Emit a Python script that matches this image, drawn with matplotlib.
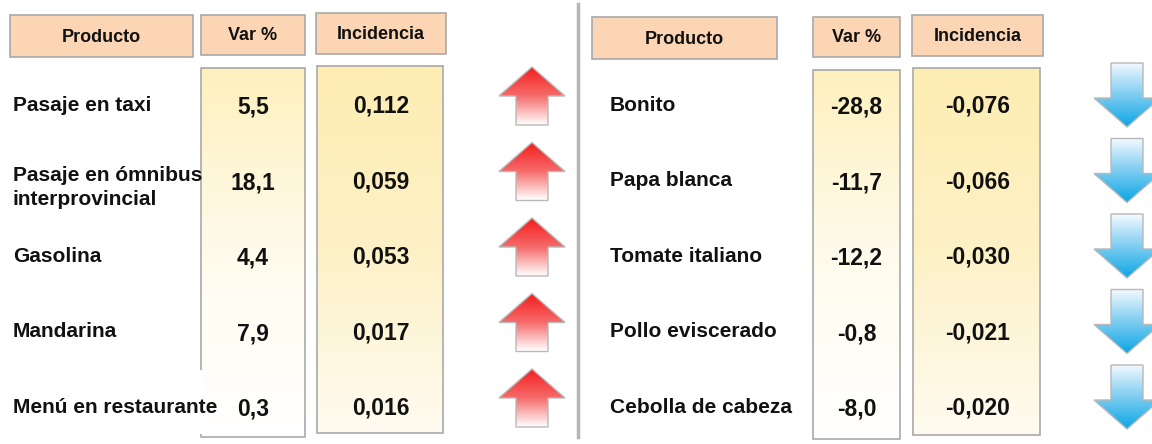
import matplotlib.pyplot as plt
import numpy as np
from matplotlib.patches import Rectangle, Polygon
from matplotlib.colors import LinearSegmentedColormap

plt.rcParams['font.family'] = ['Liberation Sans', 'DejaVu Sans']

# data
headers = ['Producto', 'Var %', 'Incidencia']
left_products = ['Pasaje en taxi', 'Pasaje en ómnibus\ninterprovincial', 'Gasolina',
                 'Mandarina', 'Menú en restaurante']
left_var = [5.5, 18.1, 4.4, 7.9, 0.3]
left_inc = [0.112, 0.059, 0.053, 0.017, 0.016]
right_products = ['Bonito', 'Papa blanca', 'Tomate italiano', 'Pollo eviscerado',
                  'Cebolla de cabeza']
right_var = [-28.8, -11.7, -12.2, -0.8, -8.0]
right_inc = [-0.076, -0.066, -0.030, -0.021, -0.020]

W, H = 1152, 444
fig = plt.figure(figsize=(W / 100, H / 100), dpi=100)
ax = fig.add_axes([0, 0, 1, 1])
ax.set_xlim(0, W)
ax.set_ylim(H, 0)
ax.axis('off')

HEAD_FC = '#fcd5b5'
EDGE = '#a9a9a9'
TXT = '#111111'

var_cmap = LinearSegmentedColormap.from_list('v', ['#fef0bd', '#fffbec', '#ffffff'])
inc_cmap = LinearSegmentedColormap.from_list('i', ['#fdedb2', '#fdf1c6', '#fffbf0'])
red_cmap = LinearSegmentedColormap.from_list('r', ['#f41c1c', '#f66a6a', '#ffffff'])
blue_cmap = LinearSegmentedColormap.from_list('b', ['#f4fafe', '#7fcdf1', '#0ba6e6'])
grad = np.linspace(0, 1, 256).reshape(-1, 1)


def fmt(v, nd):
    return f'{v:.{nd}f}'.replace('.', ',')


def gradient_box(x0, y0, x1, y1, cmap):
    ax.imshow(grad, cmap=cmap, extent=(x0, x1, y1, y0), aspect='auto', zorder=1)
    ax.add_patch(Rectangle((x0, y0), x1 - x0, y1 - y0, fill=False, ec=EDGE, lw=1.2, zorder=2))


def header(x0, y0, x1, y1, label):
    ax.add_patch(Rectangle((x0, y0), x1 - x0, y1 - y0, fc=HEAD_FC, ec=EDGE, lw=1.2, zorder=2))
    ax.text((x0 + x1) / 2, (y0 + y1) / 2 + 1, label, ha='center', va='center',
            fontsize=13, fontweight='bold', color=TXT, zorder=3)


def arrow(cx, y_top, y_bot, up, cmap):
    hw, sw, hl = 33, 16, 29
    if up:
        pts = [(cx, y_top), (cx + hw, y_top + hl), (cx + sw, y_top + hl), (cx + sw, y_bot),
               (cx - sw, y_bot), (cx - sw, y_top + hl), (cx - hw, y_top + hl)]
    else:
        pts = [(cx - sw, y_top), (cx + sw, y_top), (cx + sw, y_bot - hl), (cx + hw, y_bot - hl),
               (cx, y_bot), (cx - hw, y_bot - hl), (cx - sw, y_bot - hl)]
    poly = Polygon(pts, closed=True, fc='none', ec='#b8b8b8', lw=1.0, zorder=4)
    ax.add_patch(poly)
    im = ax.imshow(grad, cmap=cmap, extent=(cx - hw, cx + hw, y_bot, y_top),
                   aspect='auto', zorder=3)
    im.set_clip_path(poly)


def panel(products, var, inc, cols, prod_x, up, row_y0, row_dy, head_y):
    (px0, px1), (vx0, vx1), (ix0, ix1), ax_c = cols
    header(px0, head_y[0], px1, head_y[1], headers[0])
    header(vx0, head_y[0], vx1, head_y[1] - 2, headers[1])
    header(ix0, head_y[0] - 2, ix1, head_y[1] - 3, headers[2])
    gradient_box(vx0, 68 + head_y[0] - 15, vx1, 437 + head_y[0] - 15, var_cmap)
    gradient_box(ix0 + 1, 66 + head_y[0] - 15, ix1 - 3, 433 + head_y[0] - 15, inc_cmap)
    for i, (p, v, c) in enumerate(zip(products, var, inc)):
        y = row_y0 + i * row_dy
        dy = 7 if '\n' in p else 0
        ax.text(prod_x, y + dy, p, ha='left', va='center', fontsize=15, fontweight='bold',
                color=TXT, linespacing=1.3, zorder=5)
        ax.text((vx0 + vx1) / 2, y + 2, fmt(v, 1), ha='center', va='center',
                fontsize=16.5, fontweight='bold', color=TXT, zorder=5)
        ax.text((ix0 + ix1) / 2, y + 1, fmt(c, 3), ha='center', va='center',
                fontsize=16.5, fontweight='bold', color=TXT, zorder=5)
        if up:
            arrow(ax_c, y - 38, y + 20, True, red_cmap)
        else:
            arrow(ax_c, y - 42, y + 22, False, blue_cmap)


panel(left_products, left_var, left_inc,
      [(10, 193), (201, 305), (316, 446), 532], 13, True, 105, 75.5, (15, 57))
panel(right_products, right_var, right_inc,
      [(592, 777), (813, 900), (912, 1043), 1127], 610, False, 105, 75.5, (17, 59))

# pasted label patch over the var column edge
ax.add_patch(Rectangle((0, 370), 203, 64, fc='white', ec='none', zorder=4))

# separator between panels
ax.plot([578, 578], [4, 437], color='#b5b5b5', lw=2.5, zorder=2)

fig.savefig('out.png', dpi=100)
